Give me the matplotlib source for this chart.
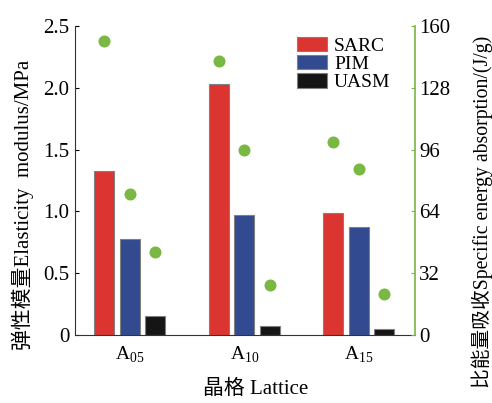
import matplotlib
matplotlib.use('Agg')
import matplotlib.pyplot as plt
import numpy as np

plt.rcParams['font.family'] = ['Liberation Serif', 'Noto Sans CJK SC']
plt.rcParams['mathtext.fontset'] = 'custom'
plt.rcParams['mathtext.rm'] = 'Liberation Serif'

groups = ['A$_{05}$', 'A$_{10}$', 'A$_{15}$']
series = ['SARC', 'PIM', 'UASM']
modulus = {
    'SARC': [1.33, 2.03, 0.99],
    'PIM': [0.78, 0.97, 0.87],
    'UASM': [0.15, 0.07, 0.05],
}
absorption = {
    'SARC': [152, 142, 100],
    'PIM': [73, 96, 86],
    'UASM': [43, 26, 21],
}
colors = {'SARC': '#dc3430', 'PIM': '#324a90', 'UASM': '#151515'}
green = '#78b843'

fig = plt.figure(figsize=(4.92, 4.03), dpi=100)
ax = fig.add_axes([75 / 492, 1 - 335 / 403, 340 / 492, 309 / 403])
ax2 = ax.twinx()

x = np.arange(len(groups))
w = 0.175
off = 0.223
for i, s in enumerate(series):
    xs = x + (i - 1) * off
    ax.bar(xs, modulus[s], w, color=colors[s], edgecolor='#808080',
           linewidth=0.8, label=s, zorder=2)
    ax2.scatter(xs, absorption[s], s=75, color=green, zorder=3, linewidths=0)

ax.set_xlim(-0.48, 2.49)
ax.set_ylim(0, 2.5)
ax2.set_ylim(0, 160)
ax.set_yticks([0, 0.5, 1.0, 1.5, 2.0, 2.5])
ax.set_yticklabels(['0', '0.5', '1.0', '1.5', '2.0', '2.5'])
ax2.set_yticks([0, 32, 64, 96, 128, 160])
ax.set_xticks(x)
ax.set_xticklabels(groups)

for a in (ax, ax2):
    a.spines['top'].set_visible(False)
ax.spines['right'].set_visible(False)
ax2.spines['left'].set_visible(False)
ax2.spines['bottom'].set_visible(False)
ax2.spines['right'].set_color(green)
ax2.spines['right'].set_linewidth(1.2)
ax.spines['left'].set_color('#333333')
ax.spines['bottom'].set_color('#333333')

ax.tick_params(axis='y', direction='in', length=3, labelsize=15, pad=4)
ax.tick_params(axis='x', direction='in', length=3, labelsize=14, pad=7)
ax2.tick_params(axis='y', direction='in', length=3, labelsize=15, pad=3,
                color=green)

ax.set_ylabel('弹性模量Elasticity  modulus/MPa', fontsize=15)
ax.yaxis.set_label_coords(-0.122, 0.42)
ax2.set_ylabel('比能量吸收Specific energy absorption/(J/g)', fontsize=14.2)
ax2.yaxis.set_label_coords(1.165, 0.397)
ax.set_xlabel('晶格 Lattice', fontsize=15)
ax.xaxis.set_label_coords(0.532, -0.146)

ax.legend(loc='upper left', bbox_to_anchor=(0.63, 0.99), frameon=False,
          fontsize=14, handlelength=1.55, handleheight=0.75, labelspacing=0.02,
          handletextpad=0.36, borderaxespad=0)

fig.savefig('out.png', dpi=100)
